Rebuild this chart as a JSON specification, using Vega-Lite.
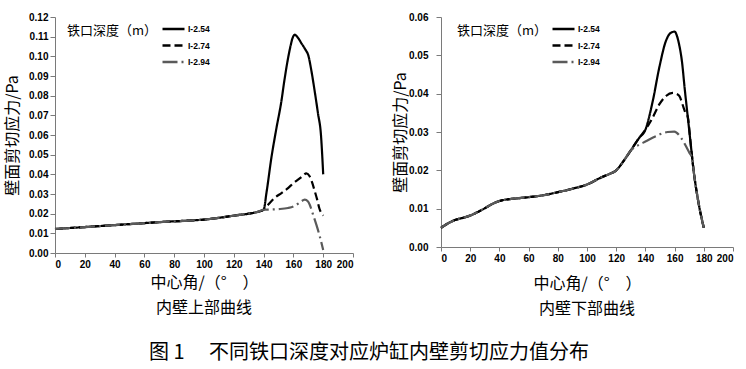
{
  "$schema": "https://vega.github.io/schema/vega-lite/v6.json",
  "background": "white",
  "padding": {"left": 4, "top": 12, "right": 4, "bottom": 4},
  "title": {"text": "图 1　 不同铁口深度对应炉缸内壁剪切应力值分布", "orient": "bottom", "anchor": "middle", "font": "Noto Sans CJK SC", "fontSize": 20, "fontWeight": "normal", "color": "#000", "offset": 26},
  "spacing": 38,
  "datasets": {
    "upper": [
      {"d": "I-2.54", "a": 0, "v": 0.0122}, {"d": "I-2.54", "a": 10, "v": 0.0127}, {"d": "I-2.54", "a": 20, "v": 0.0132}, {"d": "I-2.54", "a": 30, "v": 0.0137}, {"d": "I-2.54", "a": 40, "v": 0.0142}, {"d": "I-2.54", "a": 50, "v": 0.0147}, {"d": "I-2.54", "a": 60, "v": 0.0152}, {"d": "I-2.54", "a": 70, "v": 0.0157}, {"d": "I-2.54", "a": 80, "v": 0.0161}, {"d": "I-2.54", "a": 90, "v": 0.0165}, {"d": "I-2.54", "a": 100, "v": 0.017}, {"d": "I-2.54", "a": 110, "v": 0.0179}, {"d": "I-2.54", "a": 120, "v": 0.019}, {"d": "I-2.54", "a": 130, "v": 0.02}, {"d": "I-2.54", "a": 136, "v": 0.0209}, {"d": "I-2.54", "a": 140, "v": 0.022},
      {"d": "I-2.54", "a": 142, "v": 0.031}, {"d": "I-2.54", "a": 145.2, "v": 0.0483}, {"d": "I-2.54", "a": 148.5, "v": 0.063}, {"d": "I-2.54", "a": 151.9, "v": 0.077}, {"d": "I-2.54", "a": 154, "v": 0.088}, {"d": "I-2.54", "a": 156.4, "v": 0.099}, {"d": "I-2.54", "a": 158, "v": 0.105}, {"d": "I-2.54", "a": 159.3, "v": 0.109}, {"d": "I-2.54", "a": 160.9, "v": 0.111}, {"d": "I-2.54", "a": 163, "v": 0.1095}, {"d": "I-2.54", "a": 165.5, "v": 0.1065}, {"d": "I-2.54", "a": 168, "v": 0.1035}, {"d": "I-2.54", "a": 170, "v": 0.1005}, {"d": "I-2.54", "a": 172, "v": 0.093}, {"d": "I-2.54", "a": 174.3, "v": 0.0822}, {"d": "I-2.54", "a": 176.5, "v": 0.071}, {"d": "I-2.54", "a": 178.5, "v": 0.06}, {"d": "I-2.54", "a": 180, "v": 0.04},
      {"d": "I-2.74", "a": 0, "v": 0.0122}, {"d": "I-2.74", "a": 10, "v": 0.0127}, {"d": "I-2.74", "a": 20, "v": 0.0132}, {"d": "I-2.74", "a": 30, "v": 0.0137}, {"d": "I-2.74", "a": 40, "v": 0.0142}, {"d": "I-2.74", "a": 50, "v": 0.0147}, {"d": "I-2.74", "a": 60, "v": 0.0152}, {"d": "I-2.74", "a": 70, "v": 0.0157}, {"d": "I-2.74", "a": 80, "v": 0.0161}, {"d": "I-2.74", "a": 90, "v": 0.0165}, {"d": "I-2.74", "a": 100, "v": 0.017}, {"d": "I-2.74", "a": 110, "v": 0.0179}, {"d": "I-2.74", "a": 120, "v": 0.019}, {"d": "I-2.74", "a": 130, "v": 0.02}, {"d": "I-2.74", "a": 136, "v": 0.0209}, {"d": "I-2.74", "a": 140, "v": 0.022},
      {"d": "I-2.74", "a": 143, "v": 0.0245}, {"d": "I-2.74", "a": 147.4, "v": 0.028}, {"d": "I-2.74", "a": 152, "v": 0.0305}, {"d": "I-2.74", "a": 156.4, "v": 0.033}, {"d": "I-2.74", "a": 160, "v": 0.0355}, {"d": "I-2.74", "a": 163.1, "v": 0.0373}, {"d": "I-2.74", "a": 166, "v": 0.039}, {"d": "I-2.74", "a": 168.7, "v": 0.0405}, {"d": "I-2.74", "a": 170.9, "v": 0.039}, {"d": "I-2.74", "a": 172.5, "v": 0.036}, {"d": "I-2.74", "a": 174.3, "v": 0.0315}, {"d": "I-2.74", "a": 176, "v": 0.027}, {"d": "I-2.74", "a": 177.5, "v": 0.0225}, {"d": "I-2.74", "a": 180, "v": 0.019},
      {"d": "I-2.94", "a": 0, "v": 0.0122}, {"d": "I-2.94", "a": 10, "v": 0.0127}, {"d": "I-2.94", "a": 20, "v": 0.0132}, {"d": "I-2.94", "a": 30, "v": 0.0137}, {"d": "I-2.94", "a": 40, "v": 0.0142}, {"d": "I-2.94", "a": 50, "v": 0.0147}, {"d": "I-2.94", "a": 60, "v": 0.0152}, {"d": "I-2.94", "a": 70, "v": 0.0157}, {"d": "I-2.94", "a": 80, "v": 0.0161}, {"d": "I-2.94", "a": 90, "v": 0.0165}, {"d": "I-2.94", "a": 100, "v": 0.017}, {"d": "I-2.94", "a": 110, "v": 0.0179}, {"d": "I-2.94", "a": 120, "v": 0.019}, {"d": "I-2.94", "a": 130, "v": 0.02}, {"d": "I-2.94", "a": 136, "v": 0.0209}, {"d": "I-2.94", "a": 140, "v": 0.022},
      {"d": "I-2.94", "a": 145, "v": 0.0221}, {"d": "I-2.94", "a": 150, "v": 0.0223}, {"d": "I-2.94", "a": 156.4, "v": 0.0229}, {"d": "I-2.94", "a": 160.9, "v": 0.024}, {"d": "I-2.94", "a": 164, "v": 0.0255}, {"d": "I-2.94", "a": 167.6, "v": 0.0271}, {"d": "I-2.94", "a": 169.8, "v": 0.0262}, {"d": "I-2.94", "a": 171.5, "v": 0.0235}, {"d": "I-2.94", "a": 173.2, "v": 0.0195}, {"d": "I-2.94", "a": 175.4, "v": 0.0144}, {"d": "I-2.94", "a": 177.5, "v": 0.009}, {"d": "I-2.94", "a": 180, "v": 0.0015}
    ],
    "lower": [
      {"d": "I-2.54", "a": 0, "v": 0.005}, {"d": "I-2.54", "a": 5, "v": 0.0062}, {"d": "I-2.54", "a": 10, "v": 0.0071}, {"d": "I-2.54", "a": 15, "v": 0.0076}, {"d": "I-2.54", "a": 20, "v": 0.0082}, {"d": "I-2.54", "a": 25, "v": 0.0091}, {"d": "I-2.54", "a": 30, "v": 0.0101}, {"d": "I-2.54", "a": 35, "v": 0.0112}, {"d": "I-2.54", "a": 40, "v": 0.012}, {"d": "I-2.54", "a": 45, "v": 0.0124}, {"d": "I-2.54", "a": 50, "v": 0.0126}, {"d": "I-2.54", "a": 60, "v": 0.013}, {"d": "I-2.54", "a": 70, "v": 0.0135}, {"d": "I-2.54", "a": 80, "v": 0.0143}, {"d": "I-2.54", "a": 90, "v": 0.0152}, {"d": "I-2.54", "a": 100, "v": 0.0163}, {"d": "I-2.54", "a": 110, "v": 0.0182}, {"d": "I-2.54", "a": 115, "v": 0.019}, {"d": "I-2.54", "a": 120, "v": 0.02}, {"d": "I-2.54", "a": 125, "v": 0.0224}, {"d": "I-2.54", "a": 130, "v": 0.0252},
      {"d": "I-2.54", "a": 135.8, "v": 0.0285}, {"d": "I-2.54", "a": 140, "v": 0.0306}, {"d": "I-2.54", "a": 145, "v": 0.038}, {"d": "I-2.54", "a": 149.5, "v": 0.0468}, {"d": "I-2.54", "a": 154, "v": 0.0537}, {"d": "I-2.54", "a": 157.5, "v": 0.0559}, {"d": "I-2.54", "a": 160, "v": 0.0562}, {"d": "I-2.54", "a": 161.5, "v": 0.0552}, {"d": "I-2.54", "a": 163, "v": 0.053}, {"d": "I-2.54", "a": 165, "v": 0.0485}, {"d": "I-2.54", "a": 167, "v": 0.041}, {"d": "I-2.54", "a": 169, "v": 0.034}, {"d": "I-2.54", "a": 171, "v": 0.027}, {"d": "I-2.54", "a": 173, "v": 0.02}, {"d": "I-2.54", "a": 176.4, "v": 0.0115}, {"d": "I-2.54", "a": 180, "v": 0.005},
      {"d": "I-2.74", "a": 0, "v": 0.005}, {"d": "I-2.74", "a": 5, "v": 0.0062}, {"d": "I-2.74", "a": 10, "v": 0.0071}, {"d": "I-2.74", "a": 15, "v": 0.0076}, {"d": "I-2.74", "a": 20, "v": 0.0082}, {"d": "I-2.74", "a": 25, "v": 0.0091}, {"d": "I-2.74", "a": 30, "v": 0.0101}, {"d": "I-2.74", "a": 35, "v": 0.0112}, {"d": "I-2.74", "a": 40, "v": 0.012}, {"d": "I-2.74", "a": 45, "v": 0.0124}, {"d": "I-2.74", "a": 50, "v": 0.0126}, {"d": "I-2.74", "a": 60, "v": 0.013}, {"d": "I-2.74", "a": 70, "v": 0.0135}, {"d": "I-2.74", "a": 80, "v": 0.0143}, {"d": "I-2.74", "a": 90, "v": 0.0152}, {"d": "I-2.74", "a": 100, "v": 0.0163}, {"d": "I-2.74", "a": 110, "v": 0.0182}, {"d": "I-2.74", "a": 115, "v": 0.019}, {"d": "I-2.74", "a": 120, "v": 0.02}, {"d": "I-2.74", "a": 125, "v": 0.0224}, {"d": "I-2.74", "a": 130, "v": 0.0252},
      {"d": "I-2.74", "a": 135.8, "v": 0.0285}, {"d": "I-2.74", "a": 140, "v": 0.0306}, {"d": "I-2.74", "a": 142, "v": 0.0318}, {"d": "I-2.74", "a": 144.9, "v": 0.0337}, {"d": "I-2.74", "a": 149.5, "v": 0.0372}, {"d": "I-2.74", "a": 154.1, "v": 0.0394}, {"d": "I-2.74", "a": 158.7, "v": 0.0402}, {"d": "I-2.74", "a": 161, "v": 0.04}, {"d": "I-2.74", "a": 163.2, "v": 0.0394}, {"d": "I-2.74", "a": 166.2, "v": 0.0363}, {"d": "I-2.74", "a": 167.4, "v": 0.035}, {"d": "I-2.74", "a": 169, "v": 0.034}, {"d": "I-2.74", "a": 171, "v": 0.027}, {"d": "I-2.74", "a": 173, "v": 0.02}, {"d": "I-2.74", "a": 176.4, "v": 0.0115}, {"d": "I-2.74", "a": 180, "v": 0.005},
      {"d": "I-2.94", "a": 0, "v": 0.005}, {"d": "I-2.94", "a": 5, "v": 0.0062}, {"d": "I-2.94", "a": 10, "v": 0.0071}, {"d": "I-2.94", "a": 15, "v": 0.0076}, {"d": "I-2.94", "a": 20, "v": 0.0082}, {"d": "I-2.94", "a": 25, "v": 0.0091}, {"d": "I-2.94", "a": 30, "v": 0.0101}, {"d": "I-2.94", "a": 35, "v": 0.0112}, {"d": "I-2.94", "a": 40, "v": 0.012}, {"d": "I-2.94", "a": 45, "v": 0.0124}, {"d": "I-2.94", "a": 50, "v": 0.0126}, {"d": "I-2.94", "a": 60, "v": 0.013}, {"d": "I-2.94", "a": 70, "v": 0.0135}, {"d": "I-2.94", "a": 80, "v": 0.0143}, {"d": "I-2.94", "a": 90, "v": 0.0152}, {"d": "I-2.94", "a": 100, "v": 0.0163}, {"d": "I-2.94", "a": 110, "v": 0.0182}, {"d": "I-2.94", "a": 115, "v": 0.019}, {"d": "I-2.94", "a": 120, "v": 0.02}, {"d": "I-2.94", "a": 125, "v": 0.0224}, {"d": "I-2.94", "a": 130, "v": 0.0252},
      {"d": "I-2.94", "a": 135.8, "v": 0.0267}, {"d": "I-2.94", "a": 140, "v": 0.0275}, {"d": "I-2.94", "a": 147.2, "v": 0.0289}, {"d": "I-2.94", "a": 155.2, "v": 0.03}, {"d": "I-2.94", "a": 159.8, "v": 0.0301}, {"d": "I-2.94", "a": 164.4, "v": 0.0285}, {"d": "I-2.94", "a": 167.8, "v": 0.0263}, {"d": "I-2.94", "a": 170.1, "v": 0.0246}, {"d": "I-2.94", "a": 172, "v": 0.0232}, {"d": "I-2.94", "a": 173, "v": 0.02}, {"d": "I-2.94", "a": 176.4, "v": 0.0115}, {"d": "I-2.94", "a": 180, "v": 0.005}
    ]
  },
  "hconcat": [
    {
      "width": 298,
      "height": 236,
      "title": {"text": "内壁上部曲线", "orient": "bottom", "anchor": "middle", "font": "Noto Sans CJK SC", "fontSize": 16, "fontWeight": "normal", "color": "#000", "offset": 10},
      "data": {"name": "upper"},
      "mark": {"type": "line", "interpolate": "monotone", "strokeWidth": 2.2},
      "encoding": {
        "x": {"field": "a", "type": "quantitative", "scale": {"domain": [0, 200], "nice": false}, "axis": {"values": [0, 20, 40, 60, 80, 100, 120, 140, 160, 180, 200], "title": "中心角/（°　）", "titlePadding": 5, "tickSize": 4, "labelPadding": 2}},
        "y": {"field": "v", "type": "quantitative", "scale": {"domain": [0, 0.12], "nice": false}, "axis": {"values": [0, 0.01, 0.02, 0.03, 0.04, 0.05, 0.06, 0.07, 0.08, 0.09, 0.1, 0.11, 0.12], "format": ".2f", "title": "壁面剪切应力/Pa", "titlePadding": 8, "tickSize": 5, "labelPadding": 2}},
        "color": {"field": "d", "type": "nominal", "scale": {"domain": ["I-2.54", "I-2.74", "I-2.94"], "range": ["#000000", "#000000", "#5a5a5a"]}, "legend": {"title": "铁口深度（m）", "orient": "none", "legendX": 12, "legendY": 4}},
        "strokeDash": {"field": "d", "type": "nominal", "scale": {"domain": ["I-2.54", "I-2.74", "I-2.94"], "range": [[1, 0], [8, 4], [15, 4, 2, 4]]}, "legend": {"title": "铁口深度（m）", "orient": "none", "legendX": 12, "legendY": 4}}
      }
    },
    {
      "width": 292,
      "height": 230,
      "title": {"text": "内壁下部曲线", "orient": "bottom", "anchor": "middle", "font": "Noto Sans CJK SC", "fontSize": 16, "fontWeight": "normal", "color": "#000", "offset": 10},
      "data": {"name": "lower"},
      "mark": {"type": "line", "interpolate": "monotone", "strokeWidth": 2.2},
      "encoding": {
        "x": {"field": "a", "type": "quantitative", "scale": {"domain": [0, 200], "nice": false}, "axis": {"values": [0, 20, 40, 60, 80, 100, 120, 140, 160, 180, 200], "title": "中心角/（°　）", "titlePadding": 12, "tickSize": 4, "labelPadding": 2}},
        "y": {"field": "v", "type": "quantitative", "scale": {"domain": [0, 0.06], "nice": false}, "axis": {"values": [0, 0.01, 0.02, 0.03, 0.04, 0.05, 0.06], "format": ".2f", "title": "壁面剪切应力/Pa", "titlePadding": 0, "tickSize": 5, "labelPadding": 8}},
        "color": {"field": "d", "type": "nominal", "scale": {"domain": ["I-2.54", "I-2.74", "I-2.94"], "range": ["#000000", "#000000", "#5a5a5a"]}, "legend": {"title": "铁口深度（m）", "orient": "none", "legendX": 16, "legendY": 4}},
        "strokeDash": {"field": "d", "type": "nominal", "scale": {"domain": ["I-2.54", "I-2.74", "I-2.94"], "range": [[1, 0], [8, 4], [15, 4, 2, 4]]}, "legend": {"title": "铁口深度（m）", "orient": "none", "legendX": 16, "legendY": 4}}
      }
    }
  ],
  "resolve": {
    "scale": {"color": "independent", "strokeDash": "independent"},
    "legend": {"color": "independent", "strokeDash": "independent"}
  },
  "config": {
    "view": {"stroke": null},
    "axis": {
      "grid": false,
      "domainColor": "#7a7a7a",
      "tickColor": "#7a7a7a",
      "labelFont": "Liberation Sans",
      "labelFontSize": 10,
      "labelFontWeight": "bold",
      "labelColor": "#000",
      "titleFont": "Noto Sans CJK SC",
      "titleFontSize": 16,
      "titleFontWeight": "normal",
      "titleColor": "#000"
    },
    "legend": {
      "titleOrient": "left",
      "titleAnchor": "start",
      "titleBaseline": "line-top",
      "titleLineHeight": 20,
      "titleFont": "Noto Sans CJK SC",
      "titleFontSize": 13,
      "titleFontWeight": "normal",
      "titleColor": "#000",
      "titlePadding": 3,
      "labelFont": "Liberation Sans",
      "labelFontSize": 8.5,
      "labelFontWeight": "bold",
      "labelColor": "#000",
      "labelOffset": 2,
      "symbolType": "stroke",
      "symbolSize": 484,
      "symbolStrokeWidth": 2.5,
      "clipHeight": 16,
      "rowPadding": 0.5
    }
  }
}
